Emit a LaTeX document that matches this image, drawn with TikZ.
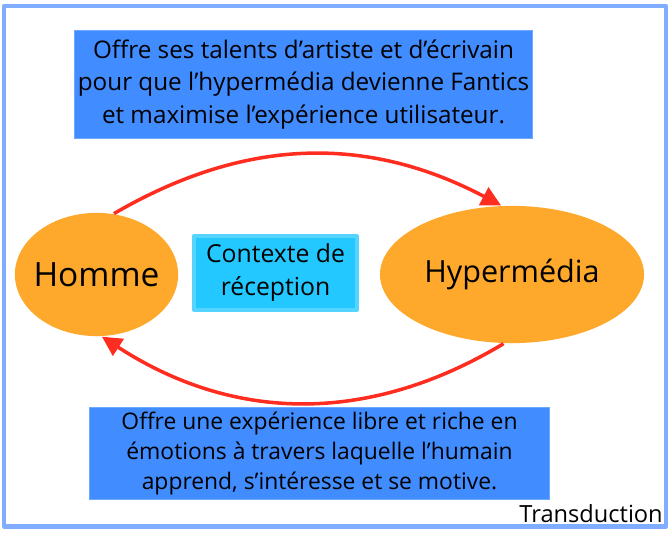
\documentclass[tikz,border=0pt]{standalone}
\usepackage{fontspec}
\setmainfont{Open Sans}
\usetikzlibrary{shapes.geometric,arrows.meta}
\definecolor{cadre}{HTML}{80ADFF}
\definecolor{bleu}{HTML}{418CFF}
\definecolor{bleuclair}{HTML}{6FA8FF}
\definecolor{ciel}{HTML}{22C8FF}
\definecolor{cielclair}{HTML}{55D4FF}
\definecolor{orange}{HTML}{FFA92C}
\definecolor{rouge}{HTML}{FF2D20}
\tikzset{
	texte/.style={fill=bleu,draw=bleuclair,line width=0.5pt,align=center,inner sep=0pt,outer sep=0pt},
	pole/.style={ellipse,fill=orange,inner sep=0pt,outer sep=0.5pt},
	fleche/.style={->,draw=rouge,line width=2.5pt}
}
\begin{document}
\begin{tikzpicture}[x=0.025cm,y=-0.025cm,>={Triangle[length=14pt,width=14pt]},line join=round]
	\useasboundingbox (0,0) rectangle (670,533);
	\draw[cadre,line width=3pt] (4,6) rectangle (666,526.5);
	\node[texte,minimum width=11.45cm,minimum height=2.7cm,font=\fontsize{17.25}{23.2}\selectfont] (offre1) at (303.5,84.5) {Offre ses talents d’artiste et d’écrivain\\pour que l’hypermédia devienne Fantics\\et maximise l’expérience utilisateur.};
	\node[texte,minimum width=11.5cm,minimum height=2.3cm,font=\fontsize{16.25}{21.5}\selectfont] (offre2) at (319.5,453.5) {Offre une expérience libre et riche en\\émotions à travers laquelle l’humain\\apprend, s’intéresse et se motive.};
	\node[fill=ciel,draw=cielclair,line width=2.8pt,align=center,inner sep=0pt,minimum width=4.07cm,minimum height=1.83cm,font=\fontsize{17.6}{23.4}\selectfont] (contexte) at (275.5,273) {Contexte de\\réception};
	\node[pole,inner xsep=-0.7cm,minimum width=4.08cm,minimum height=3.08cm,font=\fontsize{23.8}{28}\selectfont] (homme) at (96.5,274.5) {Homme};
	\node[pole,minimum width=6.6cm,minimum height=3.43cm,font=\fontsize{21.75}{26}\selectfont] (hyper) at (512,274.5) {Hypermédia};
	\draw[fleche] (homme.74) to[bend left=29] (hyper.99);
	\draw[fleche] (hyper.263) to[bend left=32] (homme.275);
	\node[anchor=south east,inner sep=0pt,font=\fontsize{16.8}{18}\selectfont] (transduction) at (663,523) {Transduction};
\end{tikzpicture}
\end{document}
